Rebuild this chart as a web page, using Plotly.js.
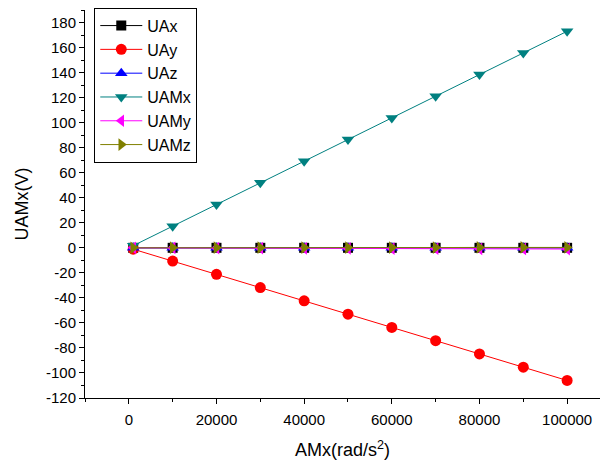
<!DOCTYPE html>
<html>
<head>
<meta charset="utf-8">
<script src="https://cdn.plot.ly/plotly-3.0.1.min.js"></script>
<style>html,body{margin:0;padding:0;background:#fff;}#chart{width:600px;height:467px;}</style>
</head>
<body>
<div id="chart"></div>
<script>
// AMx (rad/s^2)
const amx = [1000, 10000, 20000, 30000, 40000, 50000, 60000, 70000, 80000, 90000, 100000];
// Output voltages (V)
const UAx  = [0, 0, 0, 0, 0, 0, 0, 0, 0, 0, 0];
const UAy  = [-1.1, -10.6, -21.2, -31.8, -42.4, -53.0, -63.6, -74.2, -84.8, -95.4, -106.0];
const UAz  = [0, 0, 0, 0, 0, 0, 0, 0, 0, 0, 0];
const UAMx = [1.7, 17.3, 34.6, 51.9, 69.2, 86.5, 103.8, 121.1, 138.4, 155.7, 173.0];
const UAMy = [0, -0.1, -0.2, -0.3, -0.4, -0.5, -0.6, -0.7, -0.8, -0.9, -1.0];
const UAMz = [0, 0.1, 0.1, 0.1, 0.2, 0.2, 0.2, 0.2, 0.3, 0.3, 0.3];

const seriesNames = ['UAx', 'UAy', 'UAz', 'UAMx', 'UAMy', 'UAMz'];
const seriesData = [UAx, UAy, UAz, UAMx, UAMy, UAMz];
const colors = ['#000000', '#ff0000', '#0000ff', '#008080', '#ff00ff', '#808000'];
const symbols = ['square', 'circle', 'triangle-up', 'triangle-down', 'triangle-left', 'triangle-right'];
const sizes = [10, 11, 11, 11, 11, 11];

const traces = seriesNames.map((n, i) => ({
  x: amx, y: seriesData[i], name: n, type: 'scatter', mode: 'lines+markers',
  line: {color: colors[i], width: 1},
  marker: {symbol: symbols[i], color: colors[i], size: sizes[i]}
}));

const font = {family: 'Arial, "Liberation Sans", sans-serif', color: '#000'};
const layout = {
  width: 600, height: 467,
  margin: {l: 85, r: 0, t: 10, b: 69},
  paper_bgcolor: '#fff', plot_bgcolor: '#fff',
  font: Object.assign({size: 15}, font),
  showlegend: true,
  legend: {
    x: 0.018, y: 1.006, xanchor: 'left', yanchor: 'top',
    bgcolor: '#fff', bordercolor: '#000', borderwidth: 1,
    font: Object.assign({size: 16}, font),
    tracegroupgap: 0, itemwidth: 42
  },
  xaxis: {
    range: [-10000, 107500],
    tickvals: [0, 20000, 40000, 60000, 80000, 100000],
    ticktext: ['0', '20000', '40000', '60000', '80000', '100000'],
    ticks: 'outside', ticklen: 5, tickwidth: 1, tickcolor: '#000',
    ticklabelstandoff: 3,
    minor: {dtick: 10000, tick0: 0, ticks: 'outside', ticklen: 3, tickcolor: '#000', showgrid: false},
    showgrid: false, zeroline: false,
    showline: true, linecolor: '#000', linewidth: 1,
    tickfont: Object.assign({size: 15}, font),
    title: {text: 'AMx(rad/s<sup>2</sup>)', font: Object.assign({size: 18}, font), standoff: 16}
  },
  yaxis: {
    range: [-120, 190],
    tickvals: [-120, -100, -80, -60, -40, -20, 0, 20, 40, 60, 80, 100, 120, 140, 160, 180],
    ticktext: ['-120', '-100', '-80', '-60', '-40', '-20', '0', '20', '40', '60', '80', '100', '120', '140', '160', '180'],
    ticks: 'outside', ticklen: 5, tickwidth: 1, tickcolor: '#000',
    minor: {dtick: 10, tick0: 0, ticks: 'outside', ticklen: 3, tickcolor: '#000', showgrid: false},
    showgrid: false, zeroline: false,
    showline: true, linecolor: '#000', linewidth: 1,
    tickfont: Object.assign({size: 15}, font),
    title: {text: 'UAMx(V)', font: Object.assign({size: 18}, font), standoff: 12}
  }
};

Plotly.newPlot('chart', traces, layout, {displayModeBar: false, staticPlot: true});
</script>
</body>
</html>
